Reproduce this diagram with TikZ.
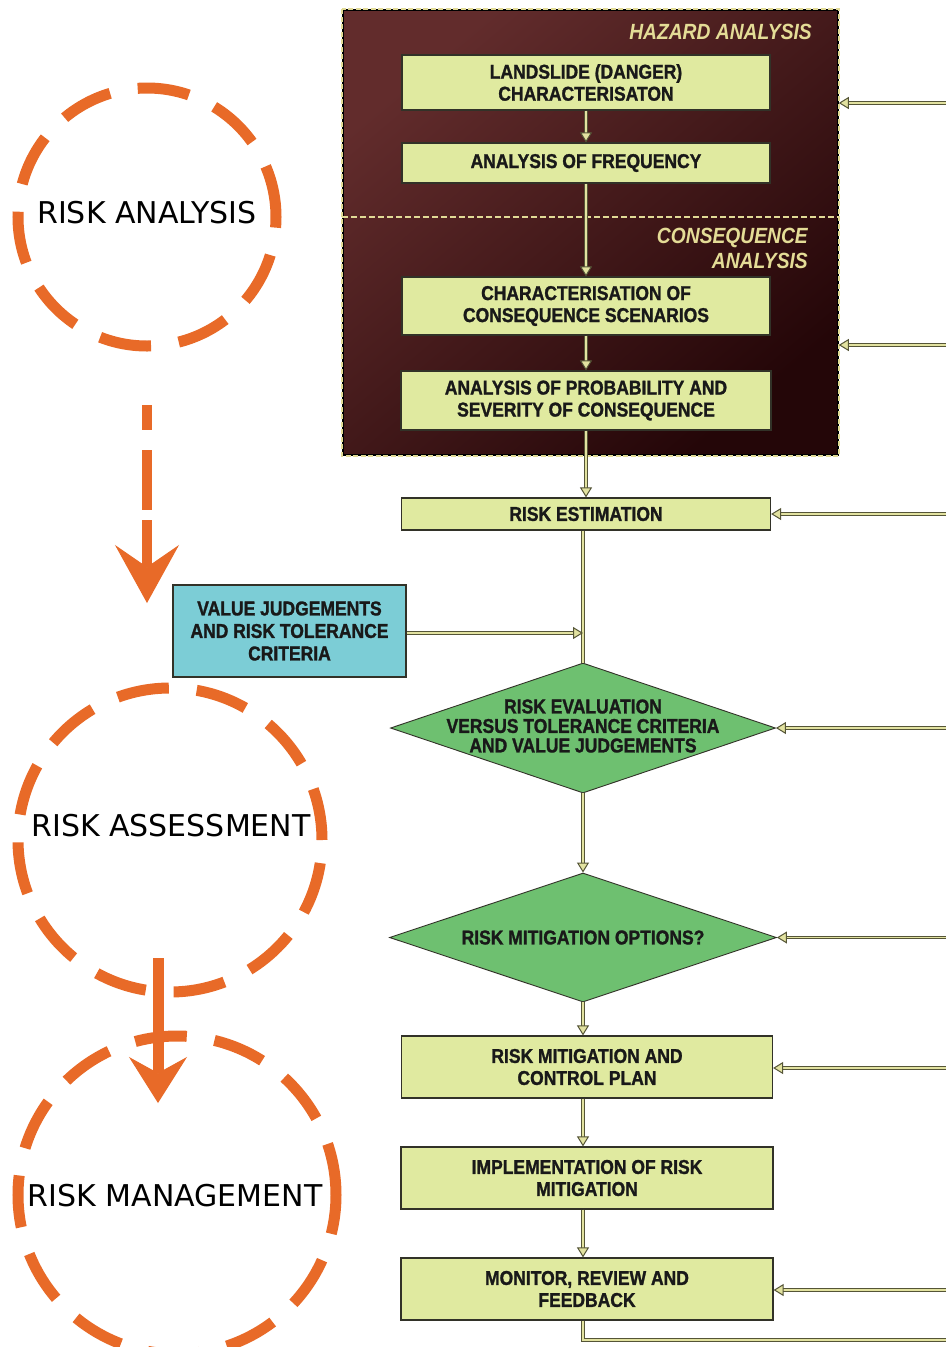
\documentclass[tikz,border=0pt]{standalone}
\usepackage{fontspec}
\usetikzlibrary{arrows.meta,shapes.geometric}
\newfontfamily\boxfont{Liberation Sans}[FakeStretch=0.875, BoldFeatures={FakeBold=1.3}]
\newfontfamily\circfont{DejaVu Sans}
\definecolor{orng}{RGB}{232,106,40}
\definecolor{boxfill}{RGB}{224,234,160}
\definecolor{boxline}{RGB}{50,50,40}
\definecolor{diafill}{RGB}{110,192,112}
\definecolor{cyanfill}{RGB}{124,205,214}
\definecolor{hztop}{RGB}{98,44,44}
\definecolor{hzbot}{RGB}{36,6,8}
\definecolor{hzdash}{RGB}{225,218,150}
\definecolor{hzlabel}{RGB}{228,220,150}
\definecolor{connc}{RGB}{85,85,55}
\definecolor{tipfill}{RGB}{226,226,160}
\definecolor{txtc}{RGB}{25,25,25}
\begin{document}
\begin{tikzpicture}[x=1pt,y=-1pt,
  box/.style={rectangle, draw=boxline, line width=1.2pt, fill=boxfill, inner sep=0pt,
    align=center, text=txtc, font=\boxfont\bfseries\fontsize{20}{22}\selectfont},
  dia/.style={diamond, draw=boxline, line width=0.9pt, fill=diafill, inner sep=0pt},
  diatext/.style={align=center, text=txtc, font=\boxfont\bfseries\fontsize{20}{19.5}\selectfont},
  vbox/.style={rectangle, draw=boxline, line width=1.2pt, fill=cyanfill, inner sep=0pt,
    align=center, text=txtc, font=\boxfont\bfseries\fontsize{20}{22.5}\selectfont},
  hzlab/.style={text=hzlabel, align=right, inner sep=0pt,
    font=\boxfont\bfseries\itshape\fontsize{22}{25}\selectfont},
  ring/.style={circle, draw=orng, line width=11pt, dash pattern=on 52pt off 28pt, inner sep=0pt},
  ringtext/.style={inner sep=0pt, text=black, font=\circfont\fontsize{30}{36}\selectfont},
  conn/.style={draw=connc, line width=1.1pt, double=tipfill, double distance=1.3pt,
    -{Triangle[length=10pt,width=12pt,fill=tipfill,line width=1pt]}},
  plainline/.style={draw=connc, line width=1.1pt, double=tipfill, double distance=1.3pt},
  bigarrow/.style={draw=orng, line width=11pt,
    -{Stealth[length=50pt,width=60pt,inset=18pt,line width=1pt,fill=orng]}}
]
\fill[white] (0,0) rectangle (946,1347);
\useasboundingbox (0,0) rectangle (946,1347);

% hazard / consequence frame
\node[rectangle, inner sep=0pt, minimum width=495pt, minimum height=445pt,
  top color=hztop, bottom color=hzbot, shading angle=40, draw=black, line width=1.5pt]
  (hz) at (590.5,232.5) {};
\draw[hzdash, line width=1.8pt, dash pattern=on 5pt off 2.5pt]
  (hz.north west) rectangle (hz.south east);
\coordinate (dv) at (0,217);
\draw[hzdash, line width=1.8pt, dash pattern=on 6pt off 3pt] (dv -| hz.west) -- (dv -| hz.east);
\node[hzlab, anchor=east] (hzl) at (812,32) {HAZARD ANALYSIS};
\node[hzlab, anchor=east] (csl) at (808,248.5) {CONSEQUENCE\\ANALYSIS};

% boxes
\node[box, minimum width=368pt, minimum height=55pt] (b1) at (586,82.5) {LANDSLIDE (DANGER)\\CHARACTERISATON};
\node[box, minimum width=368pt, minimum height=40pt] (b2) at (586,163) {ANALYSIS OF FREQUENCY};
\node[box, minimum width=368pt, minimum height=58pt] (b3) at (586,306) {CHARACTERISATION OF\\CONSEQUENCE SCENARIOS};
\node[box, minimum width=370pt, minimum height=59pt] (b4) at (586,400.5) {ANALYSIS OF PROBABILITY AND\\SEVERITY OF CONSEQUENCE};
\node[box, minimum width=369pt, minimum height=32pt] (b5) at (586,514) {RISK ESTIMATION};
\node[vbox, minimum width=233pt, minimum height=92pt] (vj) at (289.5,631) {VALUE JUDGEMENTS\\AND RISK TOLERANCE\\CRITERIA};
\node[dia, minimum width=385pt, minimum height=130pt] (d1) at (583,728) {};
\node[diatext] (d1t) at (583,726) {RISK EVALUATION\\VERSUS TOLERANCE CRITERIA\\AND VALUE JUDGEMENTS};
\node[dia, minimum width=387pt, minimum height=129pt] (d2) at (583,937.5) {};
\node[diatext] (d2t) at (583,937.5) {RISK MITIGATION OPTIONS?};
\node[box, minimum width=371pt, minimum height=62pt] (b6) at (587,1067) {RISK MITIGATION AND\\CONTROL PLAN};
\node[box, minimum width=372pt, minimum height=62pt] (b7) at (587,1178) {IMPLEMENTATION OF RISK\\MITIGATION};
\node[box, minimum width=372pt, minimum height=62pt] (b8) at (587,1289) {MONITOR, REVIEW AND\\FEEDBACK};

% main flow
\draw[conn] (b1.south -| b2.north) -- (b2.north);
\draw[conn] (b2.south) -- (b3.north);
\draw[conn] (b3.south) -- (b4.north);
\draw[conn] (b4.south) -- (b5.north -| b4.south);
\draw[plainline] (b5.south -| d1.north) -- (d1.north);
\coordinate (vjin) at (583,633);
\draw[conn] (vj.east |- vjin) -- (vjin);
\draw[conn] (d1.south) -- (d2.north);
\draw[conn] (d2.south) -- (b6.north -| d2.south);
\draw[conn] (b6.south -| d2.south) -- (b7.north -| d2.south);
\draw[conn] (b7.south -| d2.south) -- (b8.north -| d2.south);

% feedback
\coordinate (fb) at (946,1340);
\draw[plainline] (b8.south -| d2.south) |- (fb);
\coordinate (r1) at (946,103);
\coordinate (r2) at (946,345);
\coordinate (r3) at (946,514);
\coordinate (r4) at (946,728);
\coordinate (r5) at (946,937.5);
\coordinate (r6) at (946,1068);
\coordinate (r8) at (946,1290);
\draw[conn] (r1) -- (r1 -| hz.east);
\draw[conn] (r2) -- (r2 -| hz.east);
\draw[conn] (r3) -- (r3 -| b5.east);
\draw[conn] (r4) -- (d1.east);
\draw[conn] (r5) -- (d2.east);
\draw[conn] (r6) -- (r6 -| b6.east);
\draw[conn] (r8) -- (r8 -| b8.east);

% circles
\node[ring, minimum size=258pt] (ra) at (147,217) {};
\node[ringtext] (rat) at (147,213) {RISK ANALYSIS};
\node[ring, minimum size=304pt] (ras) at (170,840) {};
\node[ringtext] (rast) at (171,826) {RISK ASSESSMENT};
\node[ring, minimum size=318pt] (rm) at (177,1195) {};
\node[ringtext] (rmt) at (175,1196) {RISK MANAGEMENT};

% orange arrows
\coordinate (a1s) at (147,405);
\coordinate (a1e) at (147,603);
\draw[bigarrow, line width=10pt, dash pattern=on 25pt off 20pt on 60pt off 10pt on 200pt off 0pt,
  -{Stealth[length=58pt,width=64pt,inset=22pt,line width=1pt,fill=orng]}] (a1s) -- (a1e);
\coordinate (a2s) at (158,958);
\coordinate (a2e) at (158,1103);
\draw[bigarrow, -{Stealth[length=46pt,width=58pt,inset=16pt,line width=1pt,fill=orng]}] (a2s) -- (a2e);
\end{tikzpicture}
\end{document}
